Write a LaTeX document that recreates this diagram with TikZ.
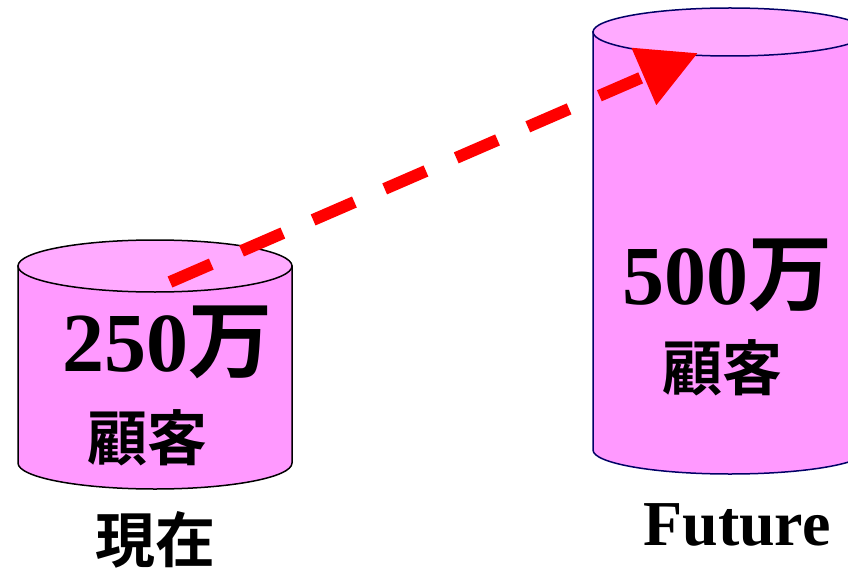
\documentclass[tikz,border=0pt]{standalone}
\usepackage{fontspec}
\setmainfont{Liberation Serif}
\newfontfamily\cjk{Noto Sans CJK JP}[BoldFont={Noto Sans CJK JP Bold}]
\usetikzlibrary{arrows.meta}
\definecolor{sidepink}{HTML}{FF99FF}
\definecolor{toppink}{HTML}{FFAAFF}
\definecolor{rimnavy}{HTML}{000066}
\definecolor{trendred}{HTML}{FF0000}

\begin{document}
\begin{tikzpicture}[x=1pt,y=-1pt]
		\tikzstyle{body} = [fill=sidepink, line width=1.5pt]
		\tikzstyle{lid} = [fill=toppink, line width=1.5pt]
		\tikzstyle{count} = [font=\bfseries\fontsize{84}{84}\selectfont, inner sep=0pt]
		\tikzstyle{kanji} = [font=\cjk\bfseries\fontsize{60}{60}\selectfont, inner sep=0pt]
		\tikzstyle{trend} = [draw=trendred, line width=12pt, dash pattern=on 45pt off 33pt, -{Triangle[length=59pt,width=59pt]}]
		\useasboundingbox (0,0) rectangle (848,572);
		\clip (0,0) rectangle (848,572);

		% current store
		\draw[body] (18,266) -- (18,463) arc (180:360:137pt and 26pt) -- (292,266) -- cycle;
		\draw[lid] (155,266) ellipse [x radius=137pt, y radius=26pt];
		% future store
		\draw[body, draw=rimnavy] (593,32) -- (593,450) arc (180:360:137pt and 24pt) -- (867,32) -- cycle;
		\draw[lid, draw=rimnavy] (730,32) ellipse [x radius=137pt, y radius=24pt];

		\node (nowcount) [count] at (167,342) {250{\cjk\bfseries 万}};
		\node (nowclients) [kanji] at (147,438) {顧客};
		\node (nowlabel) [kanji] at (155,540) {現在};
		\node (futcount) [count] at (727,275) {500{\cjk\bfseries 万}};
		\node (futclients) [kanji] at (722,368) {顧客};
		\node (futlabel) [font=\bfseries\fontsize{64}{64}\selectfont, inner sep=0pt] at (737,525) {Future};

		\coordinate (now) at (170,282);
		\coordinate (future) at (698,53);
		\draw[trend] (now) -- (future);
	\end{tikzpicture}
\end{document}
